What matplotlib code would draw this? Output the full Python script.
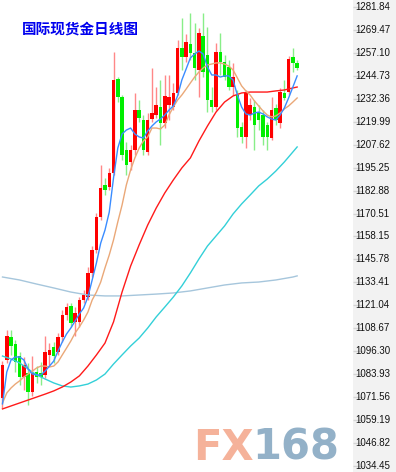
import numpy as np
import matplotlib.pyplot as plt

# daily OHLC (oldest first)
opens = [1071.1, 1091.6, 1104.0, 1100.2, 1093.7, 1082.4, 1084.6, 1074.3, 1085.1, 1084.6,
         1083.5, 1094.2, 1098.6, 1095.9, 1104.0, 1115.8, 1120.7, 1112.0, 1112.0, 1123.9,
         1125.5, 1138.4, 1150.8, 1168.6, 1185.9, 1184.8, 1192.4, 1243.0, 1233.3, 1204.8,
         1198.3, 1204.8, 1226.3, 1220.9, 1203.7, 1221.5, 1223.6, 1227.9, 1219.3, 1229.0,
         1227.9, 1235.5, 1259.7, 1254.9, 1261.9, 1257.0, 1247.9, 1266.2, 1256.0, 1231.7,
         1227.9, 1257.6, 1252.2, 1249.5, 1238.7, 1234.4, 1217.2, 1211.8, 1223.6, 1227.9,
         1225.2, 1223.6, 1218.2, 1211.2, 1227.4, 1219.3, 1235.5, 1236.0, 1254.9, 1251.6]
highs = [1091.0, 1107.7, 1107.7, 1102.3, 1095.9, 1093.2, 1090.0, 1093.7, 1088.4, 1090.5,
         1104.5, 1100.7, 1101.3, 1106.1, 1118.5, 1122.3, 1122.3, 1120.1, 1125.5, 1129.3,
         1141.7, 1153.0, 1170.8, 1196.7, 1189.7, 1195.0, 1257.6, 1244.1, 1234.4, 1209.1,
         1207.5, 1235.5, 1231.7, 1223.6, 1224.7, 1248.9, 1238.7, 1242.5, 1245.2, 1245.2,
         1240.9, 1264.1, 1275.9, 1267.3, 1278.6, 1273.2, 1270.5, 1278.6, 1271.1, 1238.7,
         1262.4, 1267.8, 1256.0, 1253.3, 1251.6, 1237.1, 1219.9, 1237.1, 1232.8, 1231.7,
         1229.0, 1226.3, 1219.9, 1233.3, 1229.5, 1238.2, 1242.5, 1255.4, 1259.7, 1253.3]
lows = [1065.7, 1090.0, 1094.2, 1085.1, 1078.1, 1075.4, 1067.3, 1072.1, 1079.2, 1078.1,
        1081.9, 1088.9, 1090.0, 1094.2, 1101.3, 1113.1, 1109.4, 1104.5, 1109.4, 1122.3,
        1123.9, 1136.3, 1149.2, 1167.0, 1180.5, 1183.2, 1191.3, 1230.6, 1199.4, 1191.3,
        1194.0, 1202.1, 1219.9, 1202.1, 1202.1, 1219.9, 1222.0, 1207.5, 1216.6, 1220.9,
        1226.3, 1234.4, 1247.9, 1252.2, 1253.3, 1242.5, 1233.3, 1244.1, 1225.2, 1225.2,
        1226.3, 1245.2, 1242.5, 1237.1, 1234.4, 1211.8, 1208.5, 1205.8, 1220.9, 1204.8,
        1215.5, 1207.5, 1204.8, 1210.2, 1218.2, 1216.6, 1231.7, 1234.4, 1246.8, 1247.9]
closes = [1088.9, 1104.5, 1099.1, 1090.5, 1082.4, 1088.9, 1074.3, 1084.6, 1082.4, 1082.4,
          1095.9, 1097.0, 1093.7, 1104.0, 1115.8, 1120.1, 1111.5, 1116.9, 1123.9, 1126.6,
          1138.4, 1150.8, 1168.6, 1184.3, 1183.2, 1192.4, 1242.5, 1233.3, 1202.1, 1196.7,
          1204.8, 1226.3, 1222.0, 1204.8, 1220.9, 1224.7, 1229.0, 1219.3, 1233.9, 1233.3,
          1235.5, 1259.7, 1254.9, 1263.0, 1257.0, 1248.9, 1267.8, 1246.8, 1231.7, 1227.9,
          1257.6, 1252.2, 1244.1, 1238.7, 1244.1, 1216.6, 1211.8, 1235.5, 1229.0, 1218.2,
          1220.9, 1211.8, 1211.8, 1226.3, 1220.9, 1236.0, 1232.8, 1253.8, 1251.6, 1248.9]

# moving averages
ma5 = [1067.9, 1085.1, 1091.6, 1093.2, 1093.2, 1091.6, 1086.7, 1084.0, 1083.5, 1083.5,
       1085.6, 1088.3, 1091.0, 1096.4, 1101.3, 1105.6, 1108.8, 1112.6, 1116.4, 1119.6,
       1125.5, 1134.7, 1143.9, 1154.6, 1161.6, 1171.3, 1189.7, 1205.8, 1213.4, 1215.5,
       1216.6, 1213.4, 1211.8, 1211.2, 1215.0, 1217.7, 1219.9, 1221.5, 1223.6, 1226.3,
       1228.5, 1233.9, 1242.5, 1248.4, 1254.4, 1256.5, 1258.1, 1256.5, 1249.5, 1245.2,
       1245.2, 1244.1, 1244.7, 1244.7, 1242.5, 1234.4, 1227.9, 1224.2, 1223.6, 1224.7,
       1225.2, 1224.2, 1222.6, 1221.5, 1220.9, 1223.6, 1227.4, 1232.8, 1238.7, 1244.7]
ma10 = [1068.4, 1073.8, 1076.5, 1078.6, 1080.3, 1082.4, 1084.0, 1085.6, 1087.3, 1088.3,
        1088.3, 1087.8, 1088.3, 1090.5, 1094.3, 1098.0, 1101.8, 1106.1, 1109.4, 1113.1,
        1117.4, 1123.9, 1128.2, 1133.6, 1141.2, 1148.2, 1156.3, 1166.0, 1175.1, 1185.9,
        1194.0, 1200.5, 1205.8, 1209.6, 1211.8, 1216.6, 1216.6, 1216.1, 1218.2, 1223.6,
        1227.9, 1231.7, 1234.4, 1237.6, 1240.9, 1244.1, 1246.8, 1249.0, 1250.6, 1251.1,
        1251.7, 1251.7, 1251.1, 1250.0, 1247.9, 1243.6, 1239.3, 1236.6, 1234.4, 1231.2,
        1228.5, 1225.8, 1223.6, 1222.6, 1223.1, 1224.7, 1226.9, 1228.5, 1230.6, 1232.8]

ma20_idx = list(range(0, 70, 2)) + [69]
ma20 = [1065.2, 1066.8, 1068.4, 1070.0, 1071.6, 1073.2, 1074.9, 1077.0, 1079.7, 1083.0,
        1088.3, 1094.3, 1100.7, 1112.1, 1128.2, 1142.2, 1153.6, 1164.3, 1173.5, 1181.6,
        1188.6, 1195.1, 1200.5, 1209.6, 1217.7, 1225.2, 1230.6, 1233.9, 1235.5, 1236.0,
        1236.0, 1236.0, 1236.6, 1237.1, 1238.2, 1238.7]
ma60_idx = list(range(0, 70, 2)) + [69]
ma60 = [1093.7, 1092.1, 1090.0, 1086.7, 1083.5, 1081.3, 1079.2, 1077.6, 1077.0, 1077.6,
        1078.6, 1080.8, 1084.0, 1089.4, 1094.3, 1099.1, 1103.4, 1108.8, 1114.8, 1120.1,
        1125.5, 1131.5, 1138.5, 1146.0, 1153.0, 1158.4, 1163.8, 1170.3, 1175.7, 1180.5,
        1185.4, 1189.1, 1193.4, 1198.3, 1203.7, 1206.4]
ma120_idx = list(range(0, 70, 4)) + [69]
ma120 = [1136.3, 1134.7, 1132.5, 1130.4, 1128.2, 1126.6, 1126.1, 1126.1, 1126.6, 1127.1,
         1127.7, 1128.8, 1130.4, 1132.0, 1133.1, 1133.6, 1134.7, 1136.3, 1136.9]

tick_labels = ['1281.84', '1269.47', '1257.10', '1244.73', '1232.36', '1219.99', '1207.62',
               '1195.25', '1182.88', '1170.51', '1158.15', '1145.78', '1133.41', '1121.04',
               '1108.67', '1096.30', '1083.93', '1071.56', '1059.19', '1046.82', '1034.45']

W, H = 396, 472
fig = plt.figure(figsize=(W / 100, H / 100), dpi=100)
fig.patch.set_facecolor('white')

ylim = (1031.2, 1285.61)
ax = fig.add_axes([0, 0, 353 / W, 1])
ax.set_xlim(-0.585, 82.08)
ax.set_ylim(*ylim)
ax.axis('off')

n = len(opens)
x = np.arange(n)
o = np.array(opens); c = np.array(closes)
up = c >= o
body_col = np.where(up, '#ff0000', '#00ee00')
wick_col = np.where(up, '#ff8888', '#88ee88')

ax.vlines(x, lows, highs, colors=wick_col, lw=1.0, zorder=2)
bottoms = np.minimum(o, c)
heights = np.maximum(np.abs(c - o), 0.6)
ax.bar(x, heights, bottom=bottoms, width=0.82, color=body_col, lw=0, zorder=3)

ax.plot(ma120_idx, ma120, color='#a6c6dc', lw=1.0, zorder=4)
ax.plot(ma60_idx, ma60, color='#33d0d8', lw=1.0, zorder=4)
ax.plot(ma20_idx, ma20, color='#ff1a1a', lw=1.0, zorder=4)
ax.plot(x, ma10, color='#eaa878', lw=1.0, zorder=4)
ax.plot(x, ma5, color='#3a8cff', lw=1.0, zorder=4)

# price axis panel on the right
pax = fig.add_axes([353 / W, 0, 43 / W, 1], sharey=ax)
pax.set_facecolor('#f2f2f2')
pax.set_xlim(0, 1)
for s in pax.spines.values():
    s.set_visible(False)
pax.set_xticks([])
vals = [float(t) for t in tick_labels]
pax.set_yticks(vals)
pax.tick_params(axis='y', direction='in', length=7, color='#d4d4d4', width=1,
                labelleft=False)
for v, t in zip(vals, tick_labels):
    pax.text(0.06, v, t, fontsize=7, family='Liberation Sans', color='#111111',
             va='center', ha='left')
pax.set_ylim(*ylim)

fig.text(22 / W, 1 - 29 / H, '国际现货金日线图', color='#0000ee', fontsize=10.5,
         fontweight='bold', family=['Noto Sans CJK SC', 'DejaVu Sans'], va='center')

# watermark
fig.text(193 / W, 1 - 460 / H, 'FX', color='#f5b29a', fontsize=30, fontweight='bold',
         family='DejaVu Sans', va='baseline', ha='left')
fig.text(252 / W, 1 - 460 / H, '168', color='#93b1c8', fontsize=30, fontweight='bold',
         family='DejaVu Sans', va='baseline', ha='left')

fig.savefig('out.png', dpi=100)
